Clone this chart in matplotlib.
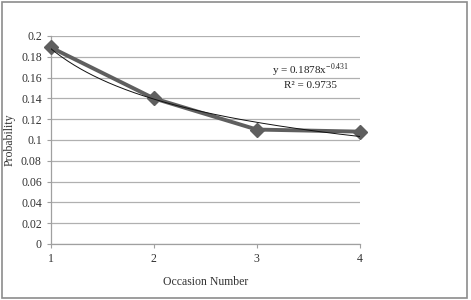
import numpy as np
import matplotlib
matplotlib.use("Agg")
import matplotlib.pyplot as plt
from matplotlib.patches import Rectangle

occasions = [1, 2, 3, 4]
probability = [0.189, 0.140, 0.110, 0.108]
trend_a = 0.1878
trend_b = -0.431
yticks = [0, 0.02, 0.04, 0.06, 0.08, 0.1, 0.12, 0.14, 0.16, 0.18, 0.2]
ytick_labels = ["0", "0.02", "0.04", "0.06", "0.08", "0.1", "0.12", "0.14", "0.16", "0.18", "0.2"]

plt.rcParams['font.family'] = ['Liberation Serif', 'DejaVu Serif']
plt.rcParams['mathtext.fontset'] = 'stix'

fig = plt.figure(figsize=(4.71, 3.0), dpi=100)
fig.patches.append(Rectangle((0.004, 0.006), 0.988, 0.988, transform=fig.transFigure,
                             fill=False, edgecolor='#8c8c8c', linewidth=1.2))
ax = fig.add_axes([0.108, 0.187, 0.656, 0.693])

ax.set_xlim(1, 4)
ax.set_ylim(0, 0.2)
ax.set_yticks(yticks)
ax.set_yticklabels(ytick_labels)
ax.set_xticks(occasions)
ax.grid(axis='y', color='#b0b0b0', linewidth=0.9)
ax.set_axisbelow(True)
for s in ['top', 'right']:
    ax.spines[s].set_visible(False)
for s in ['left', 'bottom']:
    ax.spines[s].set_color('#a0a0a0')
    ax.spines[s].set_linewidth(0.9)
ax.tick_params(axis='both', colors='#a0a0a0', labelcolor='#333333', labelsize=8.5, length=3, width=0.8)

ax.plot(occasions, probability, color='#5f5f5f', linewidth=2.8, marker='D', markersize=7,
        markerfacecolor='#5f5f5f', markeredgecolor='#5f5f5f', zorder=3, clip_on=False)

xs = np.linspace(1, 4, 200)
ax.plot(xs, trend_a * xs ** trend_b, color='#111111', linewidth=0.7, zorder=4)

ax.text(3.52, 0.1665, r"y = 0.1878x$^{\mathregular{-0.431}}$", ha='center', va='center', fontsize=8, color='#222222')
ax.text(3.52, 0.1525, r"R² = 0.9735", ha='center', va='center', fontsize=8, color='#222222')

ax.set_xlabel("Occasion Number", fontsize=8.5, color='#333333', labelpad=8)
ax.set_ylabel("Probability", fontsize=8.5, color='#333333', labelpad=4)

fig.savefig("out.png", dpi=100)
